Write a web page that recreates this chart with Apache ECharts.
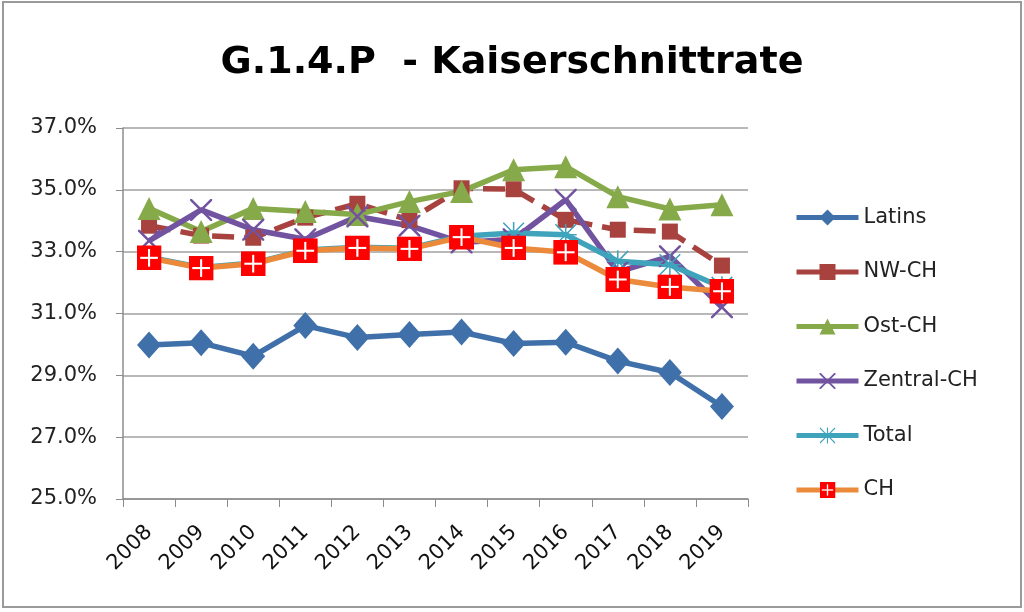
<!DOCTYPE html>
<html>
<head>
<meta charset="utf-8">
<script src="https://cdn.jsdelivr.net/npm/echarts@6/dist/echarts.min.js"></script>
<style>
html,body{margin:0;padding:0;background:#fff;}
#c{width:1024px;height:612px;}
</style>
</head>
<body>
<div id="c"></div>
<script>
const years = ['2008','2009','2010','2011','2012','2013','2014','2015','2016','2017','2018','2019'];
const latins   = [29.98, 30.05, 29.62, 30.61, 30.22, 30.32, 30.40, 30.03, 30.07, 29.46, 29.09, 27.99];
const nwch     = [33.84, 33.52, 33.45, 34.10, 34.55, 34.02, 35.05, 35.02, 34.03, 33.71, 33.65, 32.55];
const ostch    = [34.40, 33.65, 34.40, 34.30, 34.20, 34.62, 34.95, 35.65, 35.75, 34.78, 34.38, 34.52];
const zentral  = [33.35, 34.35, 33.71, 33.40, 34.14, 33.84, 33.30, 33.40, 34.68, 32.35, 32.85, 31.20];
const total    = [32.82, 32.49, 32.63, 33.05, 33.14, 33.11, 33.50, 33.60, 33.55, 32.69, 32.58, 31.85];
const ch       = [32.80, 32.47, 32.61, 33.03, 33.12, 33.09, 33.47, 33.12, 32.98, 32.10, 31.86, 31.72];
const seriesNames = ['Latins','NW-CH','Ost-CH','Zentral-CH','Total','CH'];
const yTicks = {min: 25, max: 37, step: 2};

const FONT = 'DejaVu Sans';
const chSvg = "<svg xmlns='http://www.w3.org/2000/svg' width='48' height='48'><rect width='48' height='48' fill='#ff0000'/><rect x='22' y='7' width='4' height='34' fill='#ffffff'/><rect x='7' y='22' width='34' height='4' fill='#ffffff'/></svg>";
const chSymbol = 'image://data:image/svg+xml;charset=utf-8,' + encodeURIComponent(chSvg);
const xSymbol = 'path://M0,0 L1.6,0 L10,8.4 L18.4,0 L20,0 L20,1.6 L11.6,10 L20,18.4 L20,20 L18.4,20 L10,11.6 L1.6,20 L0,20 L0,18.4 L8.4,10 L0,1.6 Z';
const starSymbol = 'path://M9.3,0 L10.7,0 L10.7,8.3 L18.9,0.1 L19.9,1.1 L11.7,9.3 L20,9.3 L20,10.7 L11.7,10.7 L19.9,18.9 L18.9,19.9 L10.7,11.7 L10.7,20 L9.3,20 L9.3,11.7 L1.1,19.9 L0.1,18.9 L8.3,10.7 L0,10.7 L0,9.3 L8.3,9.3 L0.1,1.1 L1.1,0.1 L9.3,8.3 Z';

function mk(name, data, color, symbol, size, extra) {
  return Object.assign({
    name: name, type: 'line', data: data,
    symbol: symbol, symbolSize: size,
    lineStyle: {color: color, width: 5.5},
    itemStyle: {color: color},
    emphasis: {disabled: true},
    z: 2
  }, extra || {});
}

const series = [
  mk(seriesNames[0], latins, '#4070aa', 'diamond', [24, 27]),
  mk(seriesNames[1], nwch, '#a8423f', 'rect', 16, {lineStyle: {color: '#a8423f', width: 5.5, type: [22, 10]}}),
  mk(seriesNames[2], ostch, '#86aa4a', 'triangle', [23, 23]),
  mk(seriesNames[3], zentral, '#7153a0', xSymbol, 22),
  mk(seriesNames[4], total, '#3fa3bc', starSymbol, 22),
  mk(seriesNames[5], ch, '#ea8a3a', chSymbol, 25)
];

const chart = echarts.init(document.getElementById('c'), null, {renderer: 'canvas'});
chart.setOption({
  animation: false,
  backgroundColor: '#ffffff',
  graphic: [{
    type: 'rect', shape: {x: 3, y: 2, width: 1018, height: 605},
    style: {fill: 'none', stroke: '#9a9a9a', lineWidth: 2}, silent: true
  }],
  title: {
    text: 'G.1.4.P  - Kaiserschnittrate',
    left: 'center', top: 39,
    textStyle: {fontFamily: FONT, fontWeight: 'bold', fontSize: 38, color: '#000'}
  },
  legend: {
    orient: 'vertical', left: 789, top: 202,
    itemWidth: 62, itemHeight: 20, itemGap: 33.5,
    lineStyle: {width: 5, type: 'solid'},
    textStyle: {fontFamily: FONT, fontSize: 21, color: '#222'},
    data: seriesNames
  },
  grid: {left: 123, right: 276, top: 128, bottom: 113, containLabel: false},
  xAxis: {
    type: 'category', data: years, boundaryGap: true,
    axisLine: {lineStyle: {color: '#8c8c8c', width: 1.5}},
    axisTick: {show: true, length: 8, lineStyle: {color: '#8c8c8c'}},
    axisLabel: {rotate: 45, fontFamily: FONT, fontSize: 21, color: '#111', margin: 30},
    splitLine: {show: false}
  },
  yAxis: {
    type: 'value', min: yTicks.min, max: yTicks.max, interval: yTicks.step,
    axisLine: {show: true, lineStyle: {color: '#8c8c8c', width: 1.5}},
    axisTick: {show: true, length: 7, lineStyle: {color: '#8c8c8c'}},
    axisLabel: {fontFamily: FONT, fontSize: 21, color: '#222', margin: 26,
      formatter: v => v.toFixed(1) + '%'},
    splitLine: {lineStyle: {color: '#a0a0a0', width: 1.5}}
  },
  series: series
});
</script>
</body>
</html>
